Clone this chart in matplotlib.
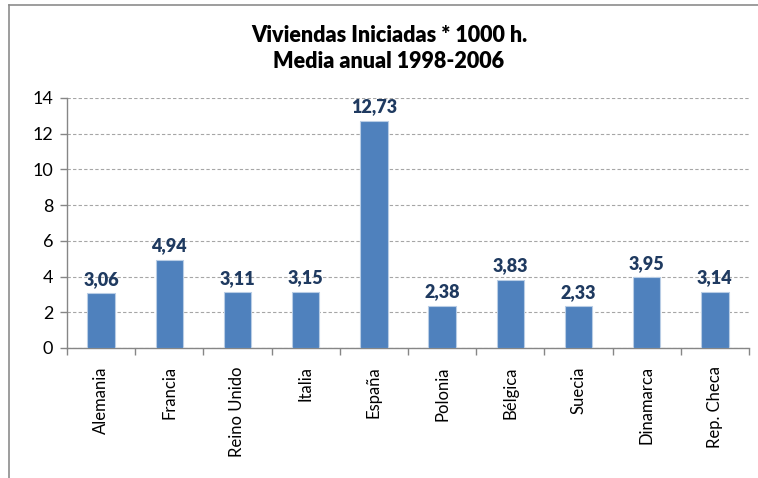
import matplotlib
matplotlib.use("Agg")
import matplotlib.pyplot as plt
from matplotlib.lines import Line2D

categories = ["Alemania", "Francia", "Reino Unido", "Italia", "España",
              "Polonia", "Bélgica", "Suecia", "Dinamarca", "Rep. Checa"]
values = [3.06, 4.94, 3.11, 3.15, 12.73, 2.38, 3.83, 2.33, 3.95, 3.14]
yticks = [0, 2, 4, 6, 8, 10, 12, 14]
title = "Viviendas Iniciadas * 1000 h.\nMedia anual 1998-2006"

plt.rcParams['font.family'] = ['Lato', 'DejaVu Sans']

W, H = 758, 478
fig = plt.figure(figsize=(W / 100, H / 100), dpi=100)
ax = fig.add_axes([67 / W, 1 - 348 / H, (749 - 67) / W, (348 - 98) / H])

x = list(range(len(categories)))
ax.bar(x, values, width=0.4, color="#4F81BD", edgecolor="#B9CDE5",
       linewidth=0.8, zorder=3)
for xi, v in zip(x, values):
    ax.text(xi, v + 0.3, f"{v:.2f}".replace(".", ","), ha="center", va="bottom",
            fontsize=13, fontweight="heavy", color="#1F3A60", zorder=4)

ax.set_xlim(-0.5, len(categories) - 0.5)
ax.set_ylim(0, 14)
ax.set_yticks(yticks)
ax.set_yticklabels([str(t) for t in yticks], fontsize=13)
ax.yaxis.grid(True, linestyle=(0, (3, 2)), color="#A6A6A6", linewidth=0.8, zorder=0)

ax.set_xticks([i - 0.5 for i in range(len(categories) + 1)], minor=False)
ax.set_xticklabels([])
ax.tick_params(axis="x", which="major", length=5, color="#868686", width=1)
ax.set_xticks(x, minor=True)
ax.set_xticklabels(categories, minor=True, rotation=90, fontsize=12)
ax.tick_params(axis="x", which="minor", length=0, pad=13)
ax.tick_params(axis="y", length=5, color="#868686", width=1, pad=5)

for s in ["top", "right"]:
    ax.spines[s].set_visible(False)
for s in ["left", "bottom"]:
    ax.spines[s].set_color("#868686")
    ax.spines[s].set_linewidth(1)

fig.text(389 / W, 1 - 25 / H, title, ha="center", va="top", fontsize=15.5,
         fontweight="heavy", linespacing=1.3)

fig.add_artist(Line2D([9 / W, 1], [1 - 5 / H, 1 - 5 / H], color="#8C8C8C",
                      linewidth=1.2, transform=fig.transFigure))
fig.add_artist(Line2D([9 / W, 9 / W], [0, 1 - 5 / H], color="#8C8C8C",
                      linewidth=1.2, transform=fig.transFigure))

fig.savefig("out.png", dpi=100)
